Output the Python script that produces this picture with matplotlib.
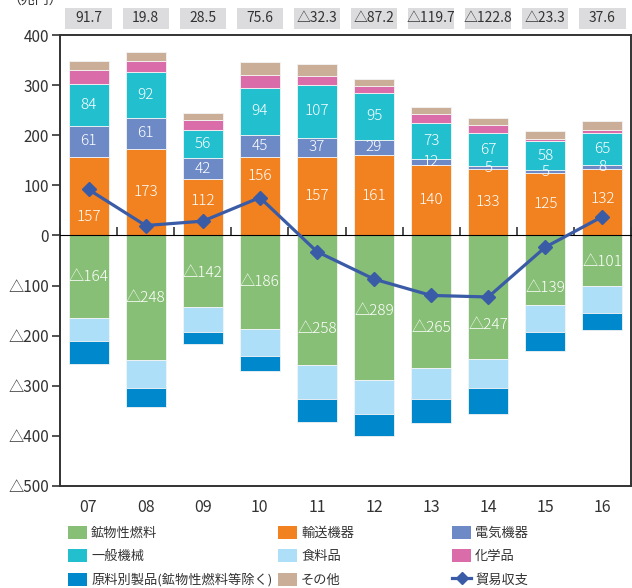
import matplotlib
matplotlib.use('Agg')
import matplotlib.pyplot as plt
import matplotlib.patches as patches
import matplotlib.transforms as mtransforms
from matplotlib.lines import Line2D
import numpy as np

plt.rcParams['font.family'] = ['Noto Sans CJK JP', 'DejaVu Sans']

# データ（兆円）
years = ['07', '08', '09', '10', '11', '12', '13', '14', '15', '16']
transport = [157, 173, 112, 156, 157, 161, 140, 133, 125, 132]   # 輸送機器
electric = [61, 61, 42, 45, 37, 29, 12, 5, 5, 8]                 # 電気機器
machinery = [84, 92, 56, 94, 107, 95, 73, 67, 58, 65]            # 一般機械
chemical = [28, 22, 21, 26, 18, 14, 18, 15, 5, 5]                # 化学品
other = [18, 18, 14, 25, 23, 14, 13, 15, 15, 18]                 # その他
fuel = [-164, -248, -142, -186, -258, -289, -265, -247, -139, -101]  # 鉱物性燃料
food = [-47, -56, -50, -55, -69, -68, -62, -58, -54, -53]         # 食料品
raw = [-45, -39, -24, -30, -46, -44, -47, -51, -38, -34]          # 原料別製品
balance = [91.7, 19.8, 28.5, 75.6, -32.3, -87.2, -119.7, -122.8, -23.3, 37.6]  # 貿易収支

# ラベル位置の微調整（線と重ならないように）
transport_nudge = [-42, 0, 12, 41, 0, -2, 0, 0, 0, 7]
fuel_nudge = [-1, -1, -3, 0, -58, -6, -52, -56, -35, -3]

colors = {
    'fuel': '#88bf76', 'transport': '#f2821f', 'electric': '#6d8ac7',
    'machinery': '#22bfcf', 'food': '#ade0f8', 'chemical': '#d96ca9',
    'raw': '#0088cd', 'other': '#cbae97', 'line': '#3a5ba6',
}


def fmt(v):
    if v < 0:
        return '△' + (f'{-v:g}')
    return f'{v:g}'


fig = plt.figure(figsize=(6.32, 5.88), dpi=100)
ax = fig.add_axes([60 / 632, 1 - 486 / 588, 571 / 632, 451 / 588])

x = np.arange(len(years))
w = 0.7
edge = dict(edgecolor='#f4f4f4', linewidth=0.6)

# 正側（輸出）
bottom = np.zeros(len(years))
pos_series = [('transport', transport), ('electric', electric), ('machinery', machinery),
              ('chemical', chemical), ('other', other)]
pos_bottoms = {}
for key, vals in pos_series:
    ax.bar(x, vals, w, bottom=bottom, color=colors[key], zorder=2, **edge)
    pos_bottoms[key] = bottom.copy()
    bottom = bottom + np.array(vals)

# 負側（輸入）
bottom = np.zeros(len(years))
neg_series = [('fuel', fuel), ('food', food), ('raw', raw)]
for key, vals in neg_series:
    ax.bar(x, vals, w, bottom=bottom, color=colors[key], zorder=2, **edge)
    bottom = bottom + np.array(vals)

# 貿易収支
ax.plot(x, balance, color=colors['line'], lw=2.3, marker='D', markersize=7, zorder=4)

# バー内ラベル
lab = dict(ha='center', va='center', color='white', fontsize=11, fontweight='light', zorder=5)
for i in range(len(years)):
    ax.text(x[i], transport[i] / 2 + transport_nudge[i], fmt(transport[i]), **lab)
    ax.text(x[i], pos_bottoms['electric'][i] + electric[i] / 2, fmt(electric[i]), **lab)
    ax.text(x[i], pos_bottoms['machinery'][i] + machinery[i] / 2, fmt(machinery[i]), **lab)
    ax.text(x[i], fuel[i] / 2 + fuel_nudge[i], fmt(fuel[i]), **lab)

# 上部の貿易収支ボックス
trans = mtransforms.blended_transform_factory(ax.transData, ax.transAxes)
for i in range(len(years)):
    ax.add_patch(patches.Rectangle((x[i] - 0.405, 1.0133), 0.81, 0.0466, transform=trans,
                                   facecolor='#dcdcde', edgecolor='none', clip_on=False))
    ax.text(x[i], 1.0366, fmt(balance[i]), transform=trans, ha='center', va='center',
            fontsize=10, color='#333333')

ax.set_xlim(-0.5, len(years) - 0.5)
ax.set_ylim(-500, 400)
yt = np.arange(-500, 401, 100)
ax.set_yticks(yt)
ax.set_yticklabels([fmt(v) for v in yt], fontsize=11, color='#333333')
ax.tick_params(axis='y', direction='out', length=6, width=1.2, color='#333333', pad=2)
ax.set_xticks(x)
ax.set_xticklabels(years, fontsize=11.5, color='#333333')
ax.tick_params(axis='x', length=0, pad=9)
for s in ax.spines.values():
    s.set_color('#333333')
    s.set_linewidth(1.4)

# ゼロ線と区切り目盛り
sec = ax.secondary_xaxis(500 / 900)
sec.set_xticks(np.arange(-0.5, len(years), 1.0))
sec.set_xticklabels([])
sec.tick_params(direction='out', length=6, width=1.2, color='#333333')
sec.spines['bottom'].set_color('#333333')
sec.spines['bottom'].set_linewidth(1.4)
sec.set_zorder(3)

fig.text(0.012, 1.0, '（兆円）', ha='left', va='center', fontsize=10, color='#333333')

# 凡例（3列を個別に配置）
def patch(key):
    return patches.Patch(facecolor=colors[key], edgecolor='none')

cols = [
    ([patch('fuel'), patch('machinery'), patch('raw')],
     ['鉱物性燃料', '一般機械', '原料別製品(鉱物性燃料等除く)'], 68),
    ([patch('transport'), patch('food'), patch('other')],
     ['輸送機器', '食料品', 'その他'], 278),
    ([patch('electric'), patch('chemical'),
      Line2D([], [], color=colors['line'], lw=2.3, marker='D', markersize=6)],
     ['電気機器', '化学品', '貿易収支'], 452),
]
for handles, labels, px in cols:
    fig.legend(handles, labels, loc='upper left', bbox_to_anchor=(px / 632, 1 - 526 / 588),
               frameon=False, fontsize=9.5, borderpad=0, borderaxespad=0,
               handlelength=1.45, handleheight=1.15, handletextpad=0.3, labelspacing=0.7,
               labelcolor='#333333')

fig.savefig('out.png', dpi=100)
